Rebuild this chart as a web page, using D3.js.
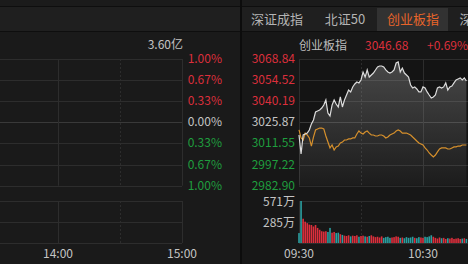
<!DOCTYPE html>
<html>
<head>
<meta charset="utf-8">
<script src="https://cdn.jsdelivr.net/npm/d3@7"></script>
<style>
  html, body { margin: 0; padding: 0; background: #171717; overflow: hidden; }
  svg { display: block; font-family: "Noto Sans CJK SC", "Noto Sans", sans-serif; }
</style>
</head>
<body>
<svg id="chart" width="468" height="264"></svg>
<script>
// tabs and labels
const tabs = ["深证成指", "北证50", "创业板指", "深"];
const indexName = "创业板指";
const lastPrice = "3046.68";
const lastChange = "+0.69%";
const leftVolLabel = "3.60亿";
const prevClose = 3025.87;
const priceTicks = [3068.84, 3054.52, 3040.19, 3025.87, 3011.55, 2997.22, 2982.90];
const pctTicks = ["1.00%", "0.67%", "0.33%", "0.00%", "0.33%", "0.67%", "1.00%"];
const volTicks = [571, 285];
const leftTimeTicks = [{ m: 180, t: "14:00" }, { m: 240, t: "15:00" }];
const rightTimeTicks = [{ m: 0, t: "09:30" }, { m: 60, t: "10:30" }];

// one value per minute from 09:30
const price = [3017.3, 3004.4, 3017.3, 3018.0, 3018.6, 3020.7, 3024.8, 3027.5, 3032.9, 3033.6,
  3034.3, 3035.6, 3037.6, 3041.0, 3032.2, 3030.2, 3037.6, 3041.0, 3038.3, 3036.3,
  3043.1, 3036.3, 3041.0, 3044.4, 3047.8, 3046.5, 3049.9, 3051.9, 3053.2, 3052.6,
  3054.6, 3060.0, 3056.6, 3061.4, 3056.6, 3058.0, 3059.3, 3061.4, 3063.4, 3064.1,
  3064.1, 3063.4, 3061.4, 3060.0, 3059.3, 3060.0, 3061.4, 3066.1, 3066.8, 3060.0,
  3062.7, 3059.3, 3058.0, 3056.6, 3051.2, 3049.2, 3049.9, 3048.5, 3046.5, 3046.5,
  3049.9, 3049.2, 3046.5, 3044.4, 3042.4, 3043.1, 3044.4, 3049.2, 3049.9, 3049.2,
  3049.9, 3052.6, 3047.8, 3049.9, 3050.5, 3052.6, 3054.6, 3055.3, 3056.0, 3054.6,
  3056.0, 3053.9];
const avgPrice = [3020.7, 3015.3, 3013.9, 3018.6, 3017.3, 3015.3, 3009.8, 3015.9, 3020.7, 3021.4,
  3022.0, 3022.0, 3021.4, 3016.6, 3012.5, 3008.5, 3010.5, 3007.1, 3009.2, 3009.8,
  3011.9, 3012.5, 3013.9, 3013.9, 3014.6, 3014.6, 3015.3, 3015.3, 3018.0, 3020.0,
  3018.6, 3018.0, 3019.3, 3020.0, 3018.6, 3017.3, 3017.3, 3016.6, 3016.6, 3017.3,
  3017.3, 3016.6, 3015.3, 3015.9, 3017.3, 3018.0, 3018.6, 3020.0, 3020.7, 3020.0,
  3018.6, 3018.6, 3018.6, 3018.0, 3017.3, 3015.9, 3014.6, 3013.2, 3011.9, 3011.2,
  3010.5, 3008.5, 3007.1, 3005.1, 3003.7, 3002.4, 3003.7, 3005.8, 3007.8, 3008.5,
  3008.5, 3008.5, 3007.8, 3007.8, 3008.5, 3009.2, 3009.2, 3009.8, 3009.8, 3010.5,
  3010.5, 3010.5];
// volume in 万
const volume = [135, 571, 330, 290, 270, 250, 245, 225, 245, 205,
  180, 160, 155, 160, 150, 205, 140, 150, 135, 140,
  120, 110, 100, 95, 105, 90, 100, 95, 105, 85,
  95, 100, 90, 85, 95, 105, 90, 80, 85, 75,
  90, 70, 80, 85, 70, 75, 80, 90, 85, 70,
  75, 65, 80, 70, 75, 85, 70, 65, 80, 75,
  70, 85, 80, 90, 105, 85, 70, 60, 75, 65,
  70, 55, 65, 60, 70, 55, 60, 65, 55, 60,
  65, 55];

const RED = "#dc2f3c", GREEN = "#1f9e3e", TEAL = "#2a9fa0", TXT = "#c4c4c4", GRID = "#2d2d2d";

const svg = d3.select("#chart");

// background bands
svg.append("rect").attr("x", 0).attr("y", 0).attr("width", 468).attr("height", 264).attr("fill", "#171717");
svg.append("rect").attr("x", 0).attr("y", 0).attr("width", 468).attr("height", 6).attr("fill", "#1b1b1b");
svg.append("rect").attr("x", 0).attr("y", 7).attr("width", 468).attr("height", 24).attr("fill", "#1f1f1f");
svg.append("rect").attr("x", 0).attr("y", 6).attr("width", 468).attr("height", 1).attr("fill", "#0e0e0e");
svg.append("rect").attr("x", 0).attr("y", 31).attr("width", 468).attr("height", 1).attr("fill", "#0e0e0e");
svg.append("rect").attr("x", 0).attr("y", 32).attr("width", 240).attr("height", 232).attr("fill", "#1a1a1a");
svg.append("rect").attr("x", 240).attr("y", 0).attr("width", 2).attr("height", 264).attr("fill", "#0c0c0c");

// tabs
const tabX = [277, 345, 413, 466];
svg.append("rect").attr("x", 377).attr("y", 8).attr("width", 71).attr("height", 23).attr("fill", "#323232");
svg.selectAll("text.tab").data(tabs).enter().append("text")
  .attr("class", "tab")
  .attr("x", (d, i) => tabX[i])
  .attr("y", 24)
  .attr("text-anchor", "middle")
  .attr("font-size", 13)
  .attr("fill", (d, i) => i === 2 ? "#e8652a" : "#b4b4b4")
  .text(d => d);

// scales
const plotTop = 59, plotBot = 185.7, volTop = 201, volBot = 243;
const xRight = d3.scaleLinear().domain([0, 240]).range([299, 299 + 496]);
const xLeft = d3.scaleLinear().domain([0, 240]).range([182 - 496, 182]);
const yPrice = d3.scaleLinear().domain([priceTicks[6], priceTicks[0]]).range([plotBot, plotTop]);
const yPct = d3.scaleLinear().domain([-1, 1]).range([plotBot, plotTop]);
const yVol = d3.scaleLinear().domain([0, volTicks[0]]).range([volBot, volTop]);

function gridH(g, x0, x1, ys, zeroIdx) {
  g.selectAll(null).data(ys).enter().append("line")
    .attr("x1", x0).attr("x2", x1)
    .attr("y1", d => Math.round(d) + 0.5).attr("y2", d => Math.round(d) + 0.5)
    .attr("stroke", (d, i) => i === zeroIdx ? "#393939" : GRID).attr("stroke-width", 1);
}
function gridV(g, x, y0, y1, dashed) {
  g.append("line")
    .attr("x1", Math.round(x) + 0.5).attr("x2", Math.round(x) + 0.5)
    .attr("y1", y0).attr("y2", y1)
    .attr("stroke", GRID).attr("stroke-dasharray", dashed ? "2,2" : null);
}

// ---- left panel (previous index, only grid visible)
const gl = svg.append("g");
gridH(gl, 0, 182, priceTicks.map(v => yPrice(v)), 3);
gridV(gl, xLeft(180), plotTop, plotBot, false);
gridV(gl, xLeft(210), plotTop, plotBot, true);
gridV(gl, 182, plotTop, plotBot, false);
gridH(gl, 0, 182, [volTop, (volTop + volBot) / 2, volBot], -1);
gridV(gl, xLeft(180), volTop, volBot, false);
gridV(gl, xLeft(210), volTop, volBot, true);
gridV(gl, 182, volTop, volBot, false);

gl.selectAll("text.pct").data(pctTicks).enter().append("text")
  .attr("x", 222)
  .attr("y", (d, i) => yPct(1 - i / 3) + 4)
  .attr("text-anchor", "end")
  .attr("font-size", 12)
  .attr("fill", (d, i) => i < 3 ? RED : i === 3 ? TXT : GREEN)
  .text(d => d);
gl.append("text").attr("x", 183).attr("y", 49).attr("text-anchor", "end")
  .attr("font-size", 12).attr("fill", TXT).text(leftVolLabel);
gl.selectAll("text.time").data(leftTimeTicks).enter().append("text")
  .attr("x", d => xLeft(d.m)).attr("y", 258)
  .attr("text-anchor", "middle").attr("font-size", 12).attr("fill", TXT)
  .text(d => d.t);

// ---- right panel
const gr = svg.append("g");
gr.append("rect").attr("x", 299).attr("y", plotTop).attr("width", 169).attr("height", plotBot - plotTop).attr("fill", "#141414");
gridH(gr, 299, 468, priceTicks.map(v => yPrice(v)), 3);
gridV(gr, 299, plotTop, plotBot, false);
gridV(gr, xRight(30), plotTop, plotBot, true);
gridV(gr, xRight(60), plotTop, plotBot, false);
gridH(gr, 299, 468, [volTop, (volTop + volBot) / 2, volBot], -1);
gridV(gr, 299, volTop, volBot, false);
gridV(gr, xRight(30), volTop, volBot, true);
gridV(gr, xRight(60), volTop, volBot, false);

// area + lines
const grad = svg.append("defs").append("linearGradient")
  .attr("id", "areaGrad").attr("x1", 0).attr("x2", 0).attr("y1", 0).attr("y2", 1);
grad.append("stop").attr("offset", "0%").attr("stop-color", "#9a9a9a").attr("stop-opacity", 0.38);
grad.append("stop").attr("offset", "100%").attr("stop-color", "#9a9a9a").attr("stop-opacity", 0.06);

gr.append("path").datum(price)
  .attr("fill", "url(#areaGrad)")
  .attr("d", d3.area().x((d, i) => xRight(i)).y0(plotBot).y1(d => yPrice(d)));
gr.append("path").datum(avgPrice)
  .attr("fill", "none").attr("stroke", "#d6902c").attr("stroke-width", 1.2)
  .attr("d", d3.line().x((d, i) => xRight(i)).y(d => yPrice(d)));
gr.append("path").datum(price)
  .attr("fill", "none").attr("stroke", "#dcdcdc").attr("stroke-width", 1.2)
  .attr("d", d3.line().x((d, i) => xRight(i)).y(d => yPrice(d)));

// volume bars, coloured by minute change
gr.selectAll("rect.vol").data(volume).enter().append("rect")
  .attr("class", "vol")
  .attr("x", (d, i) => xRight(i) - 0.8)
  .attr("width", 1.6)
  .attr("y", d => yVol(d))
  .attr("height", d => volBot - yVol(d))
  .attr("fill", (d, i) => price[i] >= (i ? price[i - 1] : prevClose) ? RED : TEAL);

// axis labels
gr.selectAll("text.price").data(priceTicks).enter().append("text")
  .attr("x", 295).attr("y", d => yPrice(d) + 4)
  .attr("text-anchor", "end").attr("font-size", 12)
  .attr("fill", d => d > prevClose ? RED : d < prevClose ? GREEN : TXT)
  .text(d => d.toFixed(2));
gr.selectAll("text.vol").data(volTicks).enter().append("text")
  .attr("x", 295).attr("y", d => yVol(d) + 5)
  .attr("text-anchor", "end").attr("font-size", 12).attr("fill", TXT)
  .text(d => d + "万");
gr.selectAll("text.time").data(rightTimeTicks).enter().append("text")
  .attr("x", d => xRight(d.m)).attr("y", 258)
  .attr("text-anchor", "middle").attr("font-size", 12).attr("fill", TXT)
  .text(d => d.t);

// title row
gr.append("text").attr("x", 299).attr("y", 50).attr("font-size", 12).attr("fill", "#bdbdbd").text(indexName);
gr.append("text").attr("x", 365).attr("y", 50).attr("font-size", 12).attr("fill", RED).text(lastPrice);
gr.append("text").attr("x", 427).attr("y", 50).attr("font-size", 12).attr("fill", RED).text(lastChange);
</script>
</body>
</html>
